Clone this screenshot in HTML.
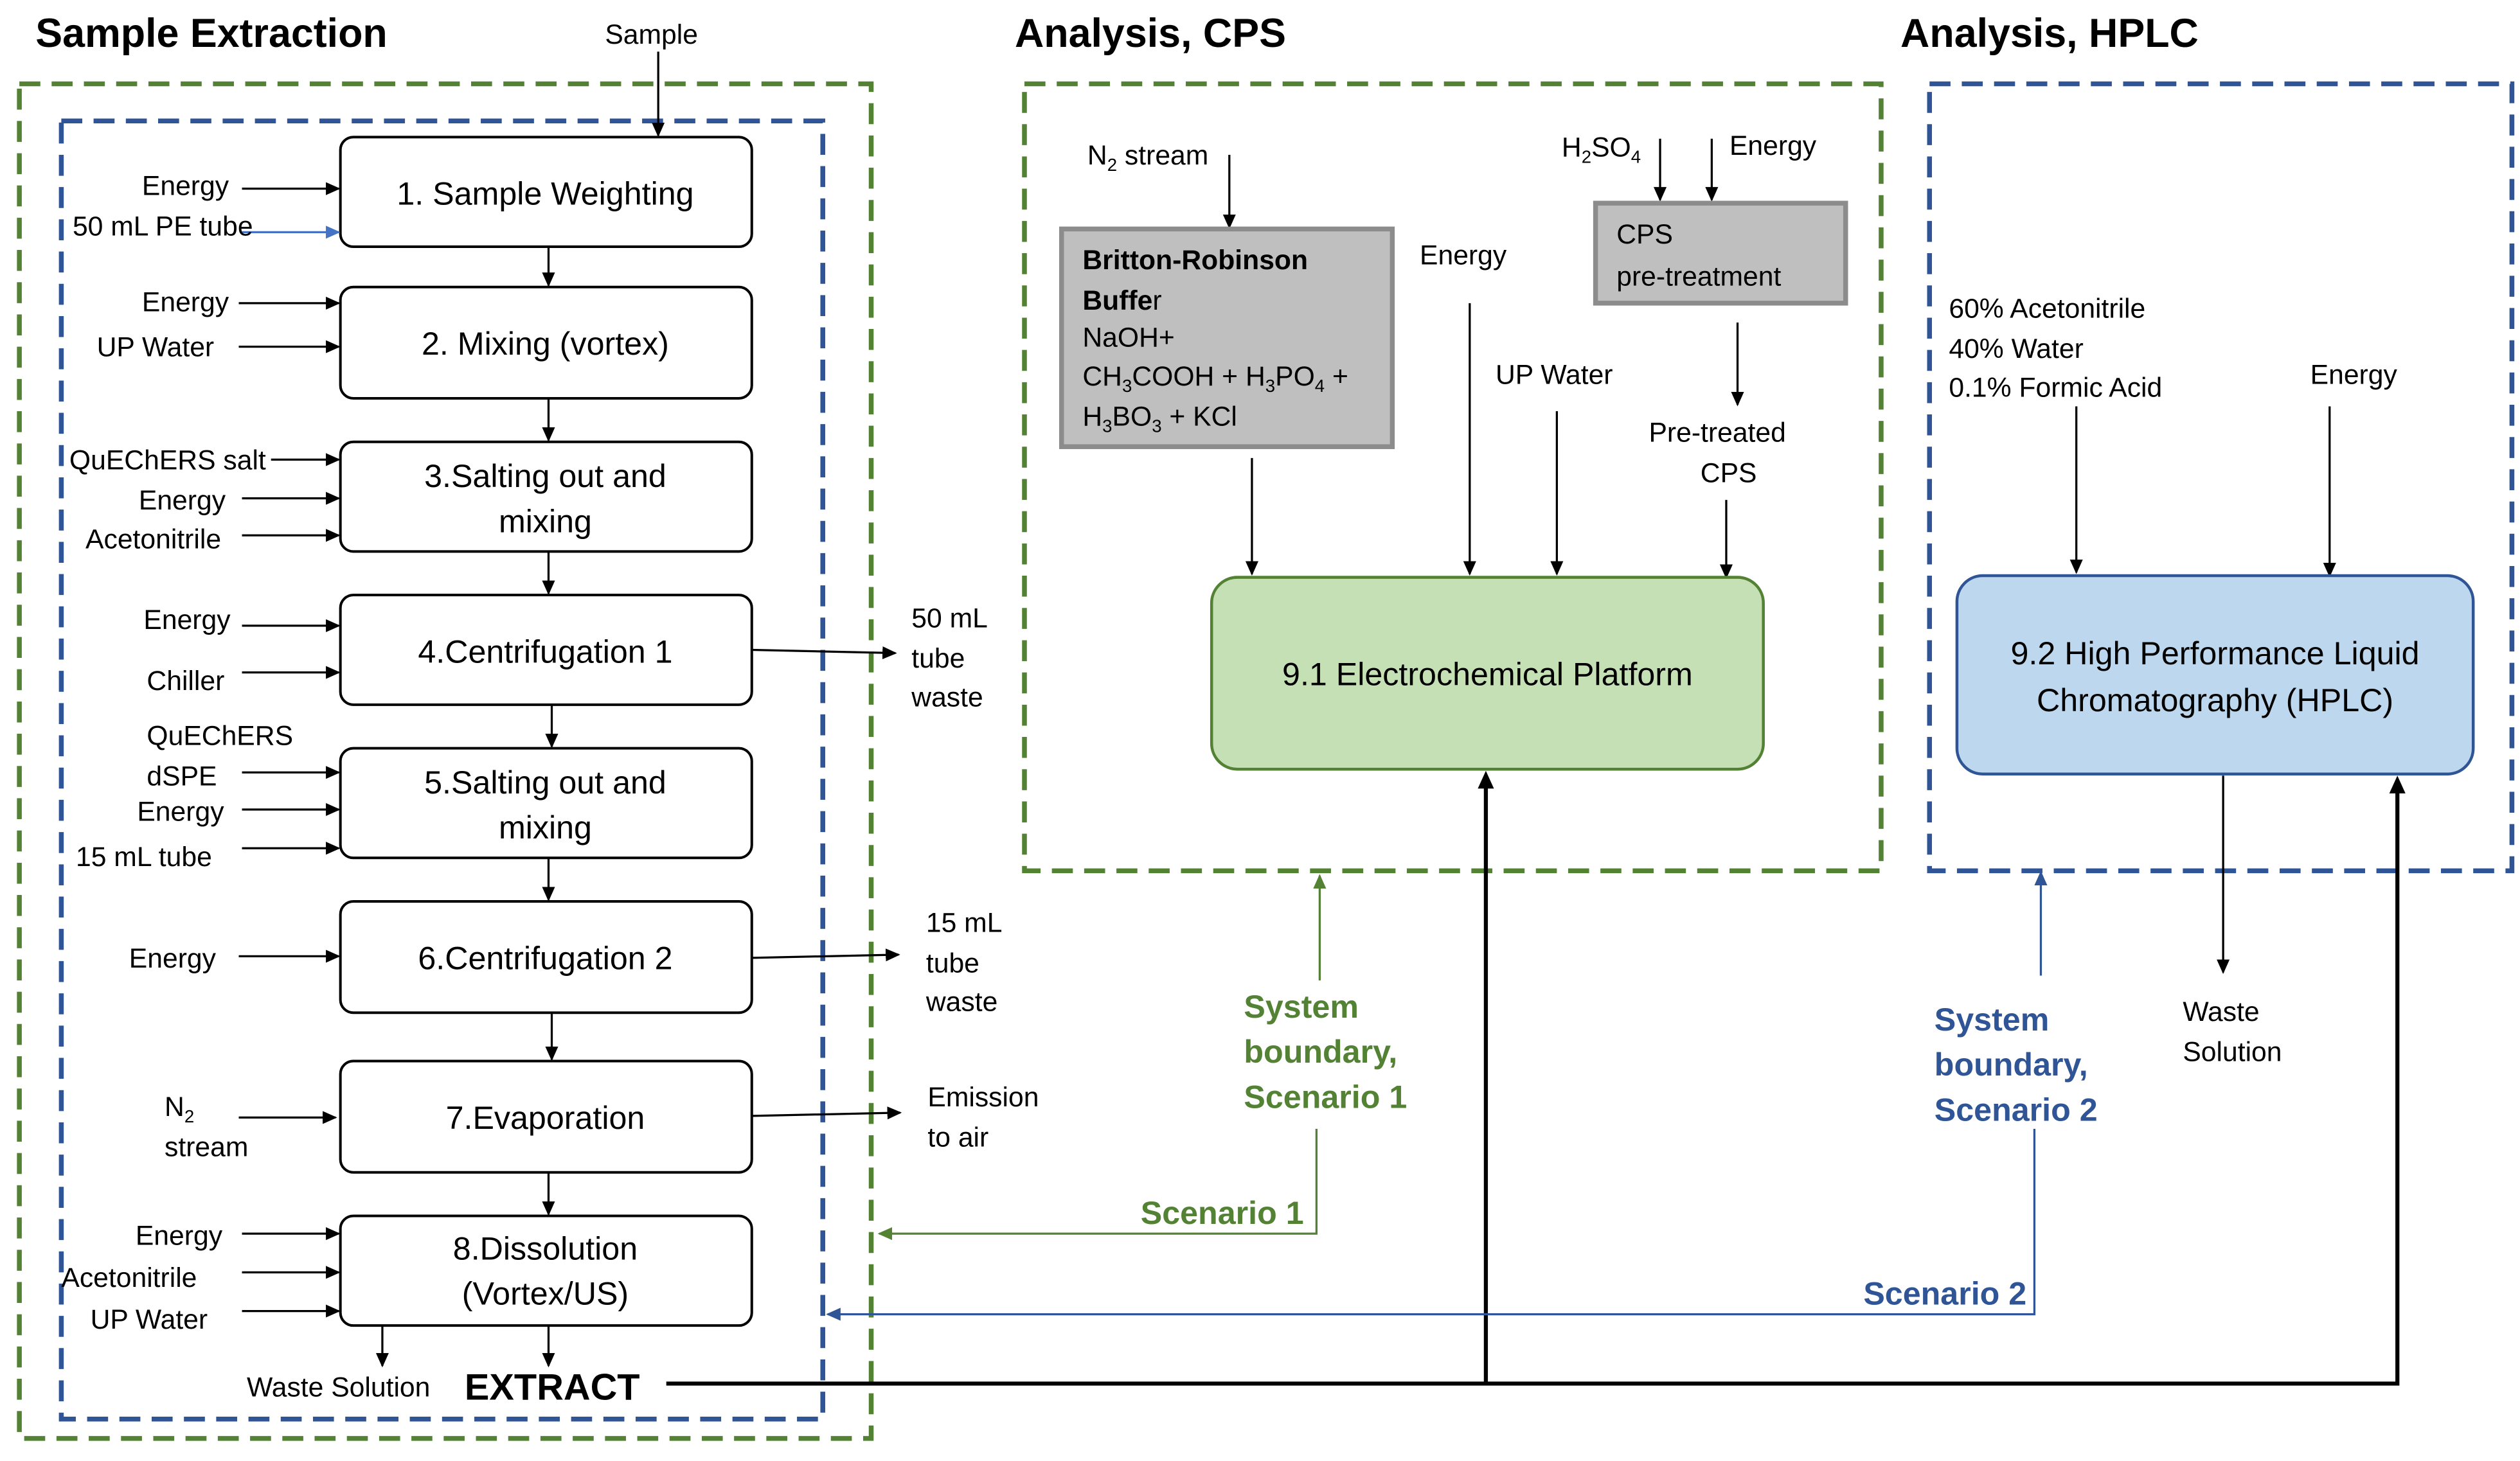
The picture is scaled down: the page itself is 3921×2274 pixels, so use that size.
<!DOCTYPE html>
<html><head><meta charset="utf-8"><style>
html,body{margin:0;padding:0;background:#fff}
svg{display:block}
text{font-family:"Liberation Sans",sans-serif}
</style></head><body>
<svg width="3921" height="2274" viewBox="0 0 1562 906" preserveAspectRatio="none" xmlns="http://www.w3.org/2000/svg" fill="#000">
<defs>
<marker id="a" markerWidth="10" markerHeight="10" refX="8" refY="5" orient="auto" markerUnits="userSpaceOnUse"><path d="M0,1 L9,5 L0,9 z" fill="#000"/></marker>
<marker id="ab" markerWidth="10" markerHeight="10" refX="8" refY="5" orient="auto" markerUnits="userSpaceOnUse"><path d="M0,1 L9,5 L0,9 z" fill="#4472c4"/></marker>
<marker id="ag" markerWidth="10" markerHeight="10" refX="8" refY="5" orient="auto" markerUnits="userSpaceOnUse"><path d="M0,1 L9,5 L0,9 z" fill="#548235"/></marker>
<marker id="ad" markerWidth="10" markerHeight="10" refX="8" refY="5" orient="auto" markerUnits="userSpaceOnUse"><path d="M0,1 L9,5 L0,9 z" fill="#2f5597"/></marker>
</defs>
<g font-weight="bold" font-size="25">
<text x="22" y="29">Sample Extraction</text>
<text x="629" y="29">Analysis, CPS</text>
<text x="1178" y="29">Analysis, HPLC</text>
</g>
<g fill="none" stroke-width="3" stroke-dasharray="13 7">
<rect x="12" y="52" width="528" height="840" stroke="#548235"/>
<rect x="38" y="75" width="472" height="805" stroke="#2f5597"/>
<rect x="635" y="52" width="531" height="488" stroke="#548235"/>
<rect x="1196" y="52" width="361" height="488" stroke="#2f5597"/>
</g>
<g fill="#fff" stroke="#000" stroke-width="1.6">
<rect x="211" y="85" width="255" height="68" rx="8"/>
<rect x="211" y="178" width="255" height="69" rx="8"/>
<rect x="211" y="274" width="255" height="68" rx="8"/>
<rect x="211" y="369" width="255" height="68" rx="8"/>
<rect x="211" y="464" width="255" height="68" rx="8"/>
<rect x="211" y="559" width="255" height="69" rx="8"/>
<rect x="211" y="658" width="255" height="69" rx="8"/>
<rect x="211" y="754" width="255" height="68" rx="8"/>
</g>
<g font-size="20" text-anchor="middle">
<text x="338" y="127">1. Sample Weighting</text>
<text x="338" y="220">2. Mixing (vortex)</text>
<text x="338" y="302">3.Salting out and</text><text x="338" y="330">mixing</text>
<text x="338" y="411">4.Centrifugation 1</text>
<text x="338" y="492">5.Salting out and</text><text x="338" y="520">mixing</text>
<text x="338" y="601">6.Centrifugation 2</text>
<text x="338" y="700">7.Evaporation</text>
<text x="338" y="781">8.Dissolution</text><text x="338" y="809">(Vortex/US)</text>
</g>
<g stroke="#000" stroke-width="1.3" marker-end="url(#a)">
<line x1="408" y1="32" x2="408" y2="84"/>
<line x1="340" y1="153" x2="340" y2="177"/>
<line x1="340" y1="247" x2="340" y2="273"/>
<line x1="340" y1="342" x2="340" y2="368"/>
<line x1="342" y1="437" x2="342" y2="463"/>
<line x1="340" y1="532" x2="340" y2="558"/>
<line x1="342" y1="628" x2="342" y2="657"/>
<line x1="340" y1="727" x2="340" y2="753"/>
<line x1="150" y1="117" x2="210" y2="117"/>
<line x1="148" y1="188" x2="210" y2="188"/>
<line x1="148" y1="215" x2="210" y2="215"/>
<line x1="168" y1="285" x2="210" y2="285"/>
<line x1="150" y1="309" x2="210" y2="309"/>
<line x1="150" y1="332" x2="210" y2="332"/>
<line x1="150" y1="388" x2="210" y2="388"/>
<line x1="150" y1="417" x2="210" y2="417"/>
<line x1="150" y1="479" x2="210" y2="479"/>
<line x1="150" y1="502" x2="210" y2="502"/>
<line x1="150" y1="526" x2="210" y2="526"/>
<line x1="148" y1="593" x2="210" y2="593"/>
<line x1="148" y1="693" x2="208" y2="693"/>
<line x1="150" y1="765" x2="210" y2="765"/>
<line x1="150" y1="789" x2="210" y2="789"/>
<line x1="150" y1="813" x2="210" y2="813"/>
<line x1="466" y1="403" x2="555" y2="405"/>
<line x1="466" y1="594" x2="557" y2="592"/>
<line x1="466" y1="692" x2="558" y2="690"/>
<line x1="237" y1="822" x2="237" y2="847"/>
<line x1="340" y1="822" x2="340" y2="847"/>
<line x1="762" y1="96" x2="762" y2="141"/>
<line x1="1029" y1="86" x2="1029" y2="124"/>
<line x1="1061" y1="86" x2="1061" y2="124"/>
<line x1="776" y1="284" x2="776" y2="356"/>
<line x1="911" y1="188" x2="911" y2="356"/>
<line x1="965" y1="255" x2="965" y2="356"/>
<line x1="1077" y1="200" x2="1077" y2="251"/>
<line x1="1070" y1="310" x2="1070" y2="358"/>
<line x1="1287" y1="252" x2="1287" y2="355"/>
<line x1="1444" y1="252" x2="1444" y2="357"/>
<line x1="1378" y1="481" x2="1378" y2="603"/>
</g>
<line x1="150" y1="144" x2="210" y2="144" stroke="#4472c4" stroke-width="1.3" marker-end="url(#ab)"/>
<g font-size="17">
<text x="375" y="27">Sample</text>
<text x="88" y="121">Energy</text>
<text x="45" y="146">50 mL PE tube</text>
<text x="88" y="193">Energy</text>
<text x="60" y="221">UP Water</text>
<text x="43" y="291">QuEChERS salt</text>
<text x="86" y="316">Energy</text>
<text x="53" y="340">Acetonitrile</text>
<text x="89" y="390">Energy</text>
<text x="91" y="428">Chiller</text>
<text x="91" y="462">QuEChERS</text>
<text x="91" y="487">dSPE</text>
<text x="85" y="509">Energy</text>
<text x="47" y="537">15 mL tube</text>
<text x="80" y="600">Energy</text>
<text x="102" y="692">N<tspan font-size="11" dy="4">2</tspan></text>
<text x="102" y="717">stream</text>
<text x="84" y="772">Energy</text>
<text x="38" y="798">Acetonitrile</text>
<text x="56" y="824">UP Water</text>
<text x="153" y="866">Waste Solution</text>
<text x="565" y="389">50 mL</text><text x="565" y="414">tube</text><text x="565" y="438">waste</text>
<text x="574" y="578">15 mL</text><text x="574" y="603">tube</text><text x="574" y="627">waste</text>
<text x="575" y="686">Emission</text><text x="575" y="711">to air</text>
<text x="674" y="102">N<tspan font-size="11" dy="4">2</tspan><tspan dy="-4"> stream</tspan></text>
<text x="968" y="97">H<tspan font-size="11" dy="4">2</tspan><tspan dy="-4">SO</tspan><tspan font-size="11" dy="4">4</tspan></text>
<text x="1072" y="96">Energy</text>
<text x="880" y="164">Energy</text>
<text x="927" y="238">UP Water</text>
<text x="1022" y="274">Pre-treated</text><text x="1054" y="299">CPS</text>
<text x="1208" y="197">60% Acetonitrile</text>
<text x="1208" y="222">40% Water</text>
<text x="1208" y="246">0.1% Formic Acid</text>
<text x="1432" y="238">Energy</text>
<text x="1353" y="633">Waste</text><text x="1353" y="658">Solution</text>
</g>
<text x="288" y="868" font-size="23" font-weight="bold">EXTRACT</text>
<rect x="658" y="142" width="205" height="135" fill="#bfbfbf" stroke="#8c8c8c" stroke-width="3"/>
<rect x="989" y="126" width="155" height="62" fill="#bfbfbf" stroke="#8c8c8c" stroke-width="3"/>
<g font-size="17">
<text x="671" y="167" font-weight="bold">Britton-Robinson</text>
<text x="671" y="192"><tspan font-weight="bold">Buffe</tspan>r</text>
<text x="671" y="215">NaOH+</text>
<text x="671" y="239">CH<tspan font-size="11" dy="4">3</tspan><tspan dy="-4">COOH + H</tspan><tspan font-size="11" dy="4">3</tspan><tspan dy="-4">PO</tspan><tspan font-size="11" dy="4">4</tspan><tspan dy="-4"> +</tspan></text>
<text x="671" y="264">H<tspan font-size="11" dy="4">3</tspan><tspan dy="-4">BO</tspan><tspan font-size="11" dy="4">3</tspan><tspan dy="-4"> + KCl</tspan></text>
<text x="1002" y="151">CPS</text>
<text x="1002" y="177">pre-treatment</text>
</g>
<rect x="751" y="358" width="342" height="119" rx="16" fill="#c5e0b4" stroke="#548235" stroke-width="1.8"/>
<rect x="1213" y="357" width="320" height="123" rx="16" fill="#bdd7ee" stroke="#2f5597" stroke-width="1.8"/>
<g font-size="20" text-anchor="middle">
<text x="922" y="425">9.1 Electrochemical Platform</text>
<text x="1373" y="412">9.2 High Performance Liquid</text>
<text x="1373" y="441">Chromatography (HPLC)</text>
</g>
<g fill="none" stroke="#000" stroke-width="2.5">
<polyline points="413,858 1486,858 1486,490"/>
<line x1="921" y1="858" x2="921" y2="488"/>
</g>
<path d="M921,478 L916,489 L926,489 z M1486,481 L1481,492 L1491,492 z"/>
<g fill="none" stroke-width="1.3">
<polyline points="816,700 816,765 545,765" stroke="#548235" marker-end="url(#ag)"/>
<line x1="818" y1="608" x2="818" y2="543" stroke="#548235" marker-end="url(#ag)"/>
<polyline points="1261,700 1261,815 513,815" stroke="#2f5597" marker-end="url(#ad)"/>
<line x1="1265" y1="605" x2="1265" y2="541" stroke="#2f5597" marker-end="url(#ad)"/>
</g>
<g font-size="20" font-weight="bold">
<text x="771" y="631" fill="#548235">System</text>
<text x="771" y="659" fill="#548235">boundary,</text>
<text x="771" y="687" fill="#548235">Scenario 1</text>
<text x="707" y="759" fill="#548235">Scenario 1</text>
<text x="1199" y="639" fill="#2f5597">System</text>
<text x="1199" y="667" fill="#2f5597">boundary,</text>
<text x="1199" y="695" fill="#2f5597">Scenario 2</text>
<text x="1155" y="809" fill="#2f5597">Scenario 2</text>
</g>
</svg>
</body></html>
